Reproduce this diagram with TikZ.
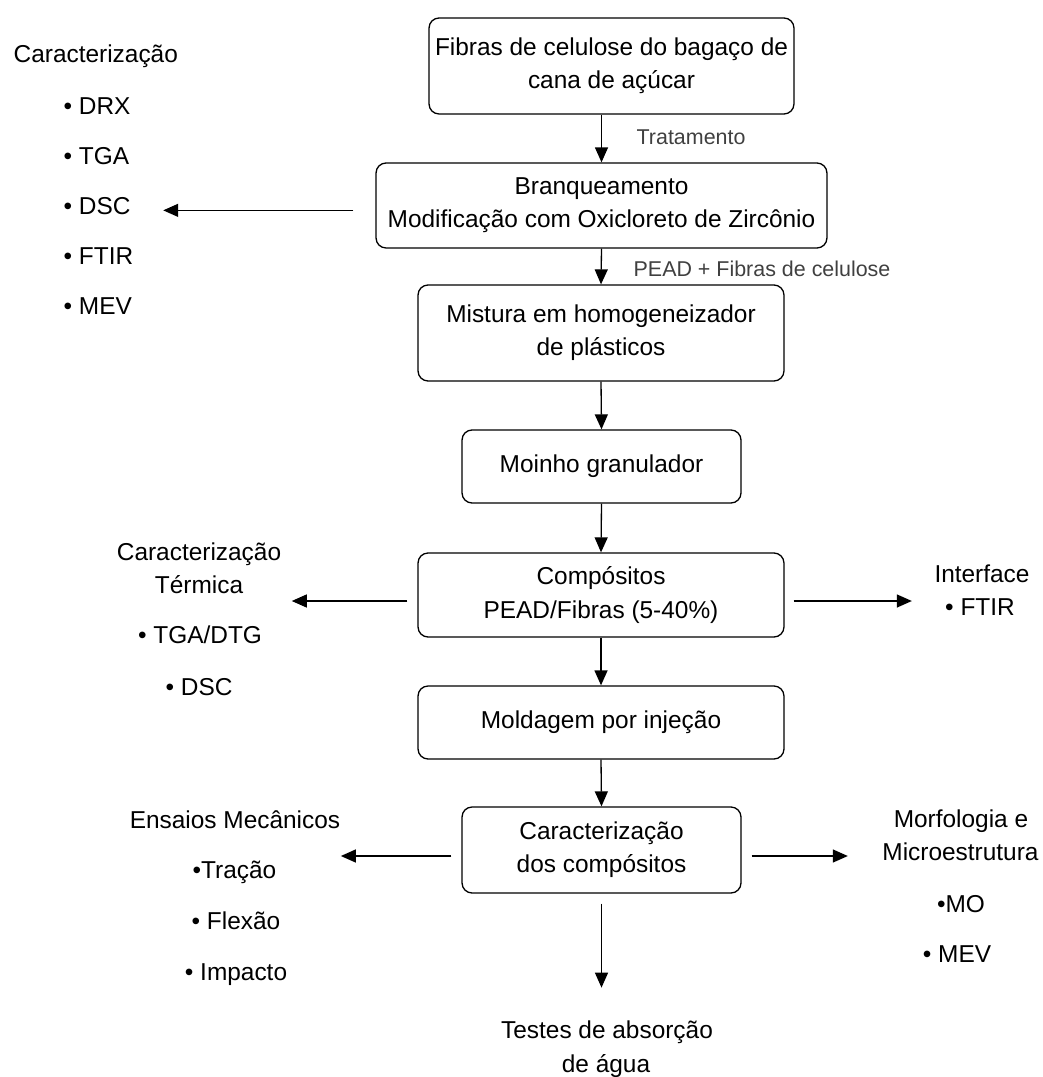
\documentclass[tikz,border=0pt]{standalone}
\usepackage{fontspec}
\setmainfont{Liberation Sans}
\usetikzlibrary{arrows.meta,calc}

\begin{document}
\begin{tikzpicture}[x=0.02cm,y=-0.02cm,line width=0.75pt,
    etapa/.style={draw,rounded corners=0.2cm,inner sep=0pt,align=center,font=\fontsize{13.9}{18.9}\selectfont},
    rotulo/.style={inner sep=0pt,anchor=base,font=\fontsize{13.9}{18.9}\selectfont},
    obs/.style={inner sep=0pt,anchor=base west,text=black!75,font=\fontsize{12.2}{14}\selectfont},
    seta/.style={-{Triangle[length=0.3cm,width=0.26cm]}},
    baixo/.style={transform canvas={yshift=-0.12cm}}]
  \useasboundingbox (0,0) rectangle (1043,1077);

  % etapas do processo
  \node[etapa,minimum width=7.3cm,minimum height=1.92cm] (b1) at (611.5,66) {Fibras de celulose do bagaço de\\cana de açúcar};
  \node[etapa,minimum width=9.02cm,minimum height=1.7cm] (b2) at (601.5,205.5) {Branqueamento\\Modificação com Oxicloreto de Zircônio};
  \node[etapa,minimum width=7.32cm,minimum height=1.92cm] (b3) at (601,333) {Mistura em homogeneizador\\de plásticos};
  \node[etapa,minimum width=5.58cm,minimum height=1.46cm] (b4) at (601.5,466.5) {Moinho granulador};
  \node[etapa,minimum width=7.32cm,minimum height=1.68cm] (b5) at (601,595) {Compósitos\\PEAD/Fibras (5-40\%)};
  \node[etapa,minimum width=7.32cm,minimum height=1.46cm] (b6) at (601,722.5) {Moldagem por injeção};
  \node[etapa,minimum width=5.58cm,minimum height=1.72cm] (b7) at (601.5,850) {Caracterização\\dos compósitos};

  \draw[seta] (b1.south -| b2.north) -- (b2.north);
  \foreach \a/\b in {b2/b3,b3/b4,b4/b5,b5/b6,b6/b7}
    \draw[seta] (\a.south) -- (\b.north);
  \node[obs] (trat) at (636,145) {Tratamento};
  \node[obs] (pead) at (633,277) {PEAD + Fibras de celulose};

  % caracterizacao das fibras
  \node[rotulo,anchor=base west] (car) at (13,63) {Caracterização};
  \foreach \t [count=\i] in {DRX,TGA,DSC,FTIR,MEV}
    \node[rotulo,anchor=base west] (ca\i) at (63,{65+50*\i}) {\textbullet\ \t};
  \draw[seta,shorten <=0.44cm,shorten >=0.64cm] (b2.west |- ca3.mid east) -- (ca3.mid east);

  % compositos
  \node[rotulo] (ter) at (199,560) {Caracterização};
  \node[rotulo] (ter2) at (199,593) {Térmica};
  \node[rotulo] (ter3) at (200,643) {\textbullet\ TGA/DTG};
  \node[rotulo] (ter4) at (199,695) {\textbullet\ DSC};
  \draw[seta,baixo,shorten <=0.2cm,shorten >=0.2cm] (b5.west) -- (b5.west -| ter.east);
  \node[rotulo] (itf) at (982,582) {Interface};
  \node[rotulo] (itf2) at (980,615) {\textbullet\ FTIR};
  \draw[seta,baixo,shorten <=0.18cm,shorten >=0.44cm] (b5.east) -- (b5.east -| itf.west);

  % ensaios finais
  \node[rotulo] (ens) at (235,828) {Ensaios Mecânicos};
  \node[rotulo] (ens2) at (234.5,878) {\textbullet Tração};
  \node[rotulo] (ens3) at (236,929) {\textbullet\ Flexão};
  \node[rotulo] (ens4) at (236,980) {\textbullet\ Impacto};
  \draw[seta,baixo,shorten <=0.2cm] (b7.west) -- (b7.west -| ens.east);
  \node[rotulo] (mor) at (961,827) {Morfologia e};
  \node[rotulo] (mor2) at (960.5,860) {Microestrutura};
  \node[rotulo] (mor3) at (961,912) {\textbullet MO};
  \node[rotulo] (mor4) at (957,962) {\textbullet\ MEV};
  \draw[seta,baixo,shorten <=0.2cm,shorten >=0.68cm] (b7.east) -- (b7.east -| mor2.west);
  \node[rotulo] (tes) at (607,1038) {Testes de absorção};
  \node[rotulo] (tes2) at (606,1072) {de água};
  \draw[seta,shorten <=0.2cm,shorten >=0.64cm] (b7.south) -- (b7.south |- tes.north);
\end{tikzpicture}
\end{document}
